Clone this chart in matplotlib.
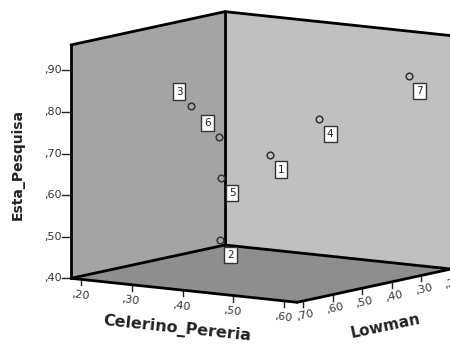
import matplotlib
matplotlib.use('Agg')
import matplotlib.pyplot as plt
import numpy as np

# ---- data ----
cases = ['1', '2', '3', '4', '5', '6', '7']
celerino = [0.45, 0.45, 0.30, 0.50, 0.40, 0.35, 0.56]
lowman = [0.51, 0.68, 0.52, 0.43, 0.59, 0.51, 0.23]
esta = [0.70, 0.52, 0.80, 0.78, 0.65, 0.73, 0.86]

cel_ticks = [0.20, 0.30, 0.40, 0.50, 0.60]
low_ticks = [0.70, 0.60, 0.50, 0.40, 0.30, 0.20]
esta_ticks = [0.40, 0.50, 0.60, 0.70, 0.80, 0.90]

cel_lim = (0.18, 0.626)
low_lim = (0.20, 0.72)
esta_lim = (0.40, 0.961)

x_title = 'Celerino_Pereria'
y_title = 'Lowman'
z_title = 'Esta_Pesquisa'

# ---- oblique projection (3D data -> figure pixels) ----
ORIGIN = np.array([71.0, 278.3])
VC = np.array([507.0, 53.8])     # per unit Celerino
VL = np.array([-296.0, 64.0])    # per unit Lowman
VE = np.array([0.0, -416.0])     # per unit Esta


def proj(c, l, e):
    c = np.asarray(c, float); l = np.asarray(l, float); e = np.asarray(e, float)
    x = (ORIGIN[0] + VC[0] * (c - cel_lim[0]) + VL[0] * (l - low_lim[1])
         + VE[0] * (e - esta_lim[0]))
    y = (ORIGIN[1] + VC[1] * (c - cel_lim[0]) + VL[1] * (l - low_lim[1])
         + VE[1] * (e - esta_lim[0]))
    return x, y


def fmt(v):
    return ('%.2f' % v)[1:].replace('.', ',')


W, H = 450, 345
fig = plt.figure(figsize=(W / 100, H / 100), dpi=100)
ax = fig.add_axes([0, 0, 1, 1])
ax.set_xlim(0, W)
ax.set_ylim(H, 0)
ax.axis('off')

c0, c1 = cel_lim
l0, l1 = low_lim
e0, e1 = esta_lim


def poly(pts, color, z):
    xs, ys = zip(*[proj(*p) for p in pts])
    ax.fill(xs, ys, color=color, lw=0, zorder=z)


# walls
poly([(c0, l1, e0), (c0, l0, e0), (c0, l0, e1), (c0, l1, e1)], '#a4a4a4', 1)
poly([(c0, l0, e0), (c1, l0, e0), (c1, l0, e1), (c0, l0, e1)], '#c0c0c0', 1)
poly([(c0, l1, e0), (c1, l1, e0), (c1, l0, e0), (c0, l0, e0)], '#8e8e8e', 1)

# edges
edges = [
    [(c0, l1, e0), (c0, l1, e1)],
    [(c0, l1, e1), (c0, l0, e1)],
    [(c0, l0, e0), (c0, l0, e1)],
    [(c0, l0, e1), (c1, l0, e1)],
    [(c0, l1, e0), (c0, l0, e0)],
    [(c0, l0, e0), (c1, l0, e0)],
    [(c0, l1, e0), (c1, l1, e0)],
    [(c1, l1, e0), (c1, l0, e0)],
]
for a, b in edges:
    xa, ya = proj(*a)
    xb, yb = proj(*b)
    ax.plot([xa, xb], [ya, yb], color='black', lw=2.0, solid_capstyle='round', zorder=3)

tick_color = '#222222'
tfs = 8
# Esta ticks
for t in esta_ticks:
    x, y = proj(c0, l1, t)
    ax.plot([x - 9, x], [y, y], color=tick_color, lw=1.0, zorder=2)
    ax.text(x - 9, y, fmt(t), ha='right', va='center', fontsize=tfs, color='#333333')
# Celerino ticks
for t in cel_ticks:
    x, y = proj(t, l1, e0)
    ax.plot([x, x], [y, y + 6], color=tick_color, lw=1.0, zorder=2)
    ax.text(x - 1, y + 16, fmt(t), ha='center', va='center', fontsize=tfs,
            rotation=-8, color='#333333')
# Lowman ticks
for t in low_ticks:
    x, y = proj(c1, t, e0)
    ax.plot([x, x], [y, y + 6], color=tick_color, lw=1.0, zorder=2)
    ax.text(x + 2, y + 14, fmt(t), ha='center', va='center', fontsize=tfs,
            rotation=12, color='#333333')

# axis titles
ax.text(18, 165, z_title, rotation=90, ha='center', va='center',
        fontsize=10, fontweight='bold', color='#222222')
ax.text(177, 329, x_title, rotation=-6, ha='center', va='center',
        fontsize=11.5, fontweight='bold', color='#222222')
ax.text(386, 326, y_title, rotation=12, ha='center', va='center',
        fontsize=11, fontweight='bold', color='#222222')

# points
px, py = proj(celerino, lowman, esta)
ax.plot(px, py, 'o', ms=4.8, mfc='none', mec='#333333', mew=1.1, zorder=5)
left_up = {'3', '6'}
for lab, x, y in zip(cases, px, py):
    if lab in left_up:
        tx, ty = x - 12, y - 14
    else:
        tx, ty = x + 11, y + 15
    ax.text(tx, ty, lab, ha='center', va='center', fontsize=7.5, color='#222222',
            zorder=6,
            bbox=dict(boxstyle='square,pad=0.3', fc='white', ec='#333333', lw=1.0))

fig.savefig('out.png', dpi=100)
